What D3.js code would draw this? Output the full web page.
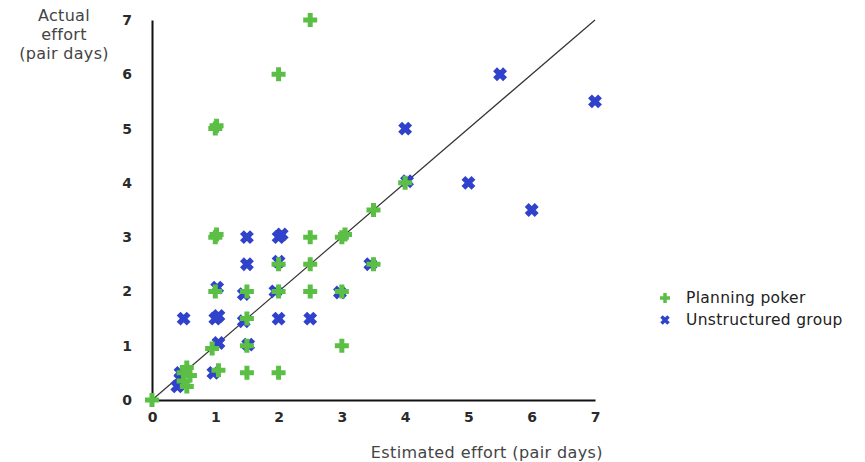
<!DOCTYPE html>
<html>
<head>
<meta charset="utf-8">
<script src="https://cdn.jsdelivr.net/npm/d3@7"></script>
<style>
  body { margin: 0; background: #fff; }
  text { font-family: "DejaVu Sans", Verdana, sans-serif; }
</style>
</head>
<body>
<svg width="865" height="462"></svg>
<script>
// data (estimated vs actual effort, pair days)
const pokerEstimated = [0, 2.5, 2, 1, 1.02, 4, 3.5, 1, 1.02, 2.5, 3, 3.05, 2, 2.5, 3.5, 1, 1.5, 2, 2.5, 3, 1.5, 1.5, 0.95, 3, 2, 1.5, 1.05, 0.5, 0.55, 0.5, 0.55, 0.6];
const pokerActual = [0, 7, 6, 5, 5.05, 4, 3.5, 3, 3.05, 3, 3, 3.05, 2.5, 2.5, 2.5, 2, 2, 2, 2, 2, 1.5, 1, 0.95, 1, 0.5, 0.5, 0.55, 0.5, 0.6, 0.35, 0.25, 0.45];
const groupEstimated = [5.5, 7, 4, 4.03, 5, 6, 1.5, 2, 2.05, 1.5, 2, 3.45, 1.03, 1.45, 1.95, 2.97, 0.5, 1, 1.05, 2, 2.5, 1.45, 1.05, 1.52, 0.97, 0.45, 0.4, 0.45];
const groupActual = [6, 5.5, 5, 4.03, 4, 3.5, 3, 3, 3.05, 2.5, 2.55, 2.5, 2.07, 1.95, 2, 1.98, 1.5, 1.5, 1.55, 1.5, 1.5, 1.45, 1.05, 1.02, 0.5, 0.5, 0.25, 0.4];
const ticks = [0, 1, 2, 3, 4, 5, 6, 7];
const legendLabels = ['Planning poker', 'Unstructured group'];

const green = '#5cbf45';
const blue = '#3042cc';

const svg = d3.select('svg');
const margin = { top: 20, left: 152 };
const chartWidth = 443;
const chartHeight = 380;

const x = d3.scaleLinear().domain([0, 7]).range([0, chartWidth]);
const y = d3.scaleLinear().domain([0, 7]).range([chartHeight, 0]);

const chart = svg.append('g')
  .attr('transform', `translate(${margin.left},${margin.top})`);

// axes
const xAxis = chart.append('g')
  .attr('transform', `translate(0,${chartHeight})`)
  .call(d3.axisBottom(x).tickValues(ticks).tickFormat(d3.format('d')).tickSize(0).tickPadding(12));
const yAxis = chart.append('g')
  .call(d3.axisLeft(y).tickValues(ticks).tickFormat(d3.format('d')).tickSize(0).tickPadding(20));

[xAxis, yAxis].forEach(a => {
  a.select('.domain').attr('stroke', '#111').attr('stroke-width', 2);
  a.selectAll('text')
    .attr('font-size', 14)
    .attr('font-weight', 'bold')
    .attr('fill', '#2a2a2a')
    .style('font-family', '"DejaVu Sans", Verdana, sans-serif');
});

// diagonal
chart.append('line')
  .attr('x1', x(0)).attr('y1', y(0))
  .attr('x2', x(7)).attr('y2', y(7))
  .attr('stroke', '#333').attr('stroke-width', 1.2);

const plusPath = 'M-7,0H7M0,-7V7';
const crossPath = 'M-5,-5L5,5M-5,5L5,-5';

const groupData = groupEstimated.map((d, i) => [d, groupActual[i]]);
const pokerData = pokerEstimated.map((d, i) => [d, pokerActual[i]]);

chart.append('g').selectAll('path')
  .data(groupData)
  .enter()
  .append('path')
  .attr('d', crossPath)
  .attr('transform', d => `translate(${x(d[0])},${y(d[1])})`)
  .attr('stroke', blue)
  .attr('stroke-width', 5.5)
  .attr('fill', 'none');

chart.append('g').selectAll('path')
  .data(pokerData)
  .enter()
  .append('path')
  .attr('d', plusPath)
  .attr('transform', d => `translate(${x(d[0])},${y(d[1])})`)
  .attr('stroke', green)
  .attr('stroke-width', 5)
  .attr('fill', 'none');

// axis titles
svg.append('text')
  .attr('font-size', 16).attr('fill', '#444')
  .attr('letter-spacing', 0.3)
  .attr('text-anchor', 'middle')
  .selectAll('tspan')
  .data(['Actual', 'effort', '(pair days)'])
  .enter()
  .append('tspan')
  .attr('x', 64)
  .attr('y', (d, i) => 21 + i * 19)
  .text(d => d);

svg.append('text')
  .attr('x', 603).attr('y', 458)
  .attr('text-anchor', 'end')
  .attr('font-size', 16).attr('fill', '#444')
  .attr('letter-spacing', 0.4)
  .text('Estimated effort (pair days)');

// legend
const legend = svg.append('g').attr('transform', 'translate(665,298)');
legendLabels.forEach((label, i) => {
  const row = legend.append('g').attr('transform', `translate(0,${i * 22})`);
  row.append('path')
    .attr('d', i === 0 ? 'M-5,0H5M0,-5V5' : 'M-3.5,-3.5L3.5,3.5M-3.5,3.5L3.5,-3.5')
    .attr('stroke', i === 0 ? green : blue)
    .attr('stroke-width', 3.5)
    .attr('fill', 'none');
  row.append('text')
    .attr('x', 21).attr('y', 5)
    .attr('font-size', 15.5).attr('fill', '#222')
    .attr('letter-spacing', 0.3)
    .text(label);
});
</script>
</body>
</html>
